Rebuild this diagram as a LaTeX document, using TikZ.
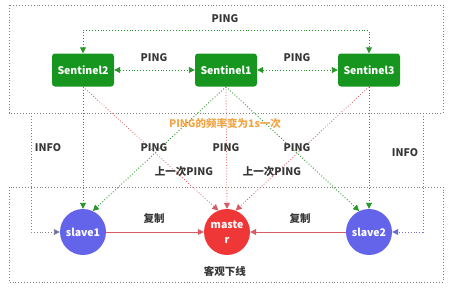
\documentclass[tikz,border=0pt]{standalone}
\usepackage{fontspec}
\setmainfont{Noto Sans CJK SC}
\usetikzlibrary{arrows.meta}
\definecolor{sentgreen}{RGB}{22,150,30}
\definecolor{pinggreen}{RGB}{40,150,40}
\definecolor{masterred}{RGB}{240,55,55}
\definecolor{linkred}{RGB}{215,90,100}
\definecolor{slaveblue}{RGB}{100,100,235}
\definecolor{infoblue}{RGB}{110,110,200}
\definecolor{noteorange}{RGB}{240,165,70}
\definecolor{labelgray}{RGB}{55,55,55}
\begin{document}
\begin{tikzpicture}[
  x=1pt, y=-1pt,
  every node/.style={font=\bfseries\fontsize{10.5}{12}\selectfont, align=center},
  sentinel/.style={rectangle, rounded corners=3pt, fill=sentgreen, text=white, minimum width=62pt, minimum height=33pt},
  slave/.style={circle, fill=slaveblue, text=white, minimum size=46pt, inner sep=0pt},
  master/.style={circle, fill=masterred, text=white, minimum size=46pt, inner sep=0pt, font=\bfseries\fontsize{10.5}{15}\selectfont},
  frame/.style={draw=gray, dotted, line width=0.9pt},
  ping/.style={draw=pinggreen, dotted, line width=0.9pt, -{Triangle[length=6pt, width=6pt]}},
  pingred/.style={draw=linkred, dotted, line width=0.8pt, -{Triangle[length=6pt, width=6pt]}},
  info/.style={dotted, line width=0.9pt, -{Triangle[length=6pt, width=6pt]}},
  repl/.style={draw=linkred, line width=0.8pt, -{Triangle[length=6pt, width=6pt]}},
  lbl/.style={text=labelgray}
]
\useasboundingbox (0,0) rectangle (451,292);
% Rahmen
\draw[frame] (9,5) rectangle (443,113);
\draw[frame] (9,187) rectangle (443,282);
% Knoten
\node[sentinel] (s2) at (83,70) {Sentinel2};
\node[sentinel] (s1) at (226,70) {Sentinel1};
\node[sentinel] (s3) at (369,70) {Sentinel3};
\node[slave] (slave1) at (83,232) {slave1};
\node[master] (master) at (227,232) {maste\\r};
\node[slave] (slave2) at (369,232) {slave2};
\coordinate (infoL) at (31,113);
\coordinate (infoR) at (423,113);
% PING zwischen den Sentinels
\draw[ping, {Triangle[length=6pt, width=6pt]}-{Triangle[length=6pt, width=6pt]}] (s2.north) -- ++(0,-23) -| (s3.north);
\draw[ping, {Triangle[length=6pt, width=6pt]}-{Triangle[length=6pt, width=6pt]}] (s2) -- (s1);
\draw[ping, {Triangle[length=6pt, width=6pt]}-{Triangle[length=6pt, width=6pt]}] (s1) -- (s3);
% PING nach unten
\draw[ping] (s2.south) -- (slave1.north);
\draw[ping] (s1.south) -- (slave1.65);
\draw[ping] (s1.south) -- (slave2.115);
\draw[ping] (s3.south) -- (slave2.north);
\draw[pingred] (s2.south) -- (master.112);
\draw[pingred] (s1.south) -- (master.north);
\draw[pingred] (s3.south) -- (master.68);
% INFO
\draw[info, draw=gray, -{Triangle[length=6pt, width=6pt, fill=slaveblue]}] (infoL) |- (slave1.west);
\draw[info, draw=infoblue, -{Triangle[length=6pt, width=6pt, fill=slaveblue]}] (infoR) |- (slave2.east);
% Replikation
\draw[repl] (slave1) -- (master);
\draw[repl] (slave2) -- (master);
% Beschriftungen
\node[lbl] (lping) at (225,19) {PING};
\node[lbl] (lping2) at (154,58) {PING};
\node[lbl] (lping3) at (297,58) {PING};
\node[text=noteorange] (note) at (225,123) {PING的频率变为1s一次};
\node[lbl] (linfoL) at (48,148) {INFO};
\node[lbl] (linfoR) at (405,153) {INFO};
\node[lbl] (lp1) at (154,148) {PING};
\node[lbl] (lp2) at (226,148) {PING};
\node[lbl] (lp3) at (297,148) {PING};
\node[lbl] (last1) at (184,172) {上一次PING};
\node[lbl] (last2) at (272,172) {上一次PING};
\node[lbl] (copy1) at (154,219) {复制};
\node[lbl] (copy2) at (300,219) {复制};
\node[lbl] (down) at (225,271) {客观下线};
\end{tikzpicture}
\end{document}
